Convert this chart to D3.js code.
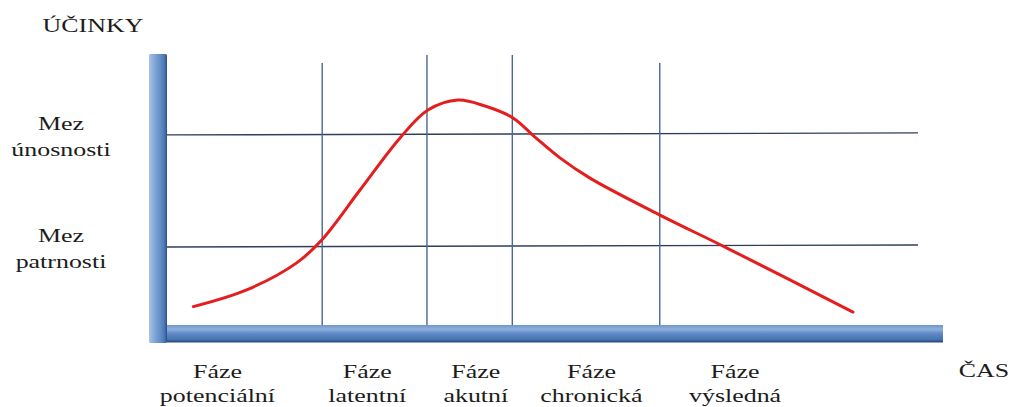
<!DOCTYPE html>
<html>
<head>
<meta charset="utf-8">
<script src="https://cdn.jsdelivr.net/npm/d3@7"></script>
<style>
  html, body { margin: 0; padding: 0; background: #fff; }
  svg { display: block; }
</style>
</head>
<body>
<svg id="chart" width="1013" height="407"></svg>
<script>
// ---- data (time units 0..100, effect units 0..100) ----
const phaseNames = ["potenciální", "latentní", "akutní", "chronická", "výsledná"];
const phaseCenters = [6.5, 25.8, 39.8, 54.7, 73.2];
const phaseBoundaries = [20, 33.5, 44.5, 63.5];
const boundaryTops = [97, 100, 100, 97];
const thresholdNames = [["Mez", "únosnosti"], ["Mez", "patrnosti"]];
const thresholdValues = [70.4, 28.9];
const curveTime = [3.39, 10.27, 16.71, 19.94, 24.87, 30.03, 33.63, 37.50, 40.98, 44.59, 47.42, 50.64, 54.51, 63.53, 72.16, 88.40];
const curveEffect = [6.8, 13.0, 23.0, 31.5, 50.0, 69.3, 79.6, 83.3, 81.1, 76.7, 69.6, 61.9, 54.4, 40.7, 28.5, 4.8];
const yTitle = "ÚČINKY";
const xTitle = "ČAS";
const phaseWord = "Fáze";

// ---- layout ----
const svg = d3.select("#chart");
const x = d3.scaleLinear().domain([0, 100]).range([167, 943]);
const y = d3.scaleLinear().domain([0, 100]).range([325, 55]);
const stretch = 1.33;
const fs = 19.5;
const font = "'Liberation Serif', 'DejaVu Serif', 'Noto Serif', 'Times New Roman', Times, serif";

const defs = svg.append("defs");
const gv = defs.append("linearGradient").attr("id", "gv").attr("x1", "0").attr("x2", "1").attr("y1", "0").attr("y2", "0");
[["0%", "#a9c3e4"], ["35%", "#7ea3d4"], ["75%", "#5683c0"], ["88%", "#4772af"], ["100%", "#2e4c7c"]]
  .forEach(s => gv.append("stop").attr("offset", s[0]).attr("stop-color", s[1]));
const gh = defs.append("linearGradient").attr("id", "gh").attr("x1", "0").attr("x2", "0").attr("y1", "0").attr("y2", "1");
[["0%", "#6e96cc"], ["25%", "#8fb0dc"], ["50%", "#5f8ac6"], ["85%", "#4673b2"], ["100%", "#2e4c7c"]]
  .forEach(s => gh.append("stop").attr("offset", s[0]).attr("stop-color", s[1]));

// grid: thresholds (horizontal)
svg.append("g").selectAll("line").data(thresholdValues).join("line")
  .attr("x1", x(0)).attr("x2", 918)
  .attr("y1", d => y(d)).attr("y2", d => y(d) - 2)
  .attr("stroke", "#2f3f5c").attr("stroke-width", 1.4);

// grid: phase boundaries (vertical)
svg.append("g").selectAll("line").data(phaseBoundaries).join("line")
  .attr("x1", d => x(d)).attr("x2", d => x(d))
  .attr("y1", (d, i) => y(boundaryTops[i])).attr("y2", y(0) + 17)
  .attr("stroke", "#4a6790").attr("stroke-width", 1.4);

// curve
const pts = curveTime.map((t, i) => [x(t), y(curveEffect[i])]);
svg.append("path")
  .attr("d", d3.line().curve(d3.curveCatmullRom.alpha(0.5))(pts))
  .attr("fill", "none").attr("stroke", "#e41e1e").attr("stroke-width", 3)
  .attr("stroke-linecap", "round");

// axis bars
svg.append("rect").attr("x", 149).attr("y", y(0)).attr("width", x(100) - 149).attr("height", 17)
  .attr("fill", "url(#gh)");
svg.append("rect").attr("x", 149).attr("y", 54).attr("width", 18).attr("height", y(0) + 18 - 54)
  .attr("rx", 1.5).attr("fill", "url(#gv)");
svg.append("line").attr("x1", 167).attr("x2", x(100)).attr("y1", y(0) + 17).attr("y2", y(0) + 17)
  .attr("stroke", "#2e4c7c").attr("stroke-width", 1.2);

// text helper
function label(cx, by, str) {
  svg.append("text")
    .attr("transform", `translate(${cx},${by}) scale(${stretch},1)`)
    .attr("text-anchor", "middle")
    .attr("font-family", font)
    .attr("font-size", fs)
    .attr("fill", "#1c1c1c")
    .text(str);
}

label(93, 32, yTitle);
label(984, 377, xTitle);

// threshold labels
thresholdNames.forEach((lines, i) => {
  const cy = y(thresholdValues[i]);
  label(61, cy - 5, lines[0]);
  label(61, cy + 21, lines[1]);
});

// phase labels
phaseNames.forEach((n, i) => {
  label(x(phaseCenters[i]), 378, phaseWord);
  label(x(phaseCenters[i]), 402, n);
});
</script>
</body>
</html>
